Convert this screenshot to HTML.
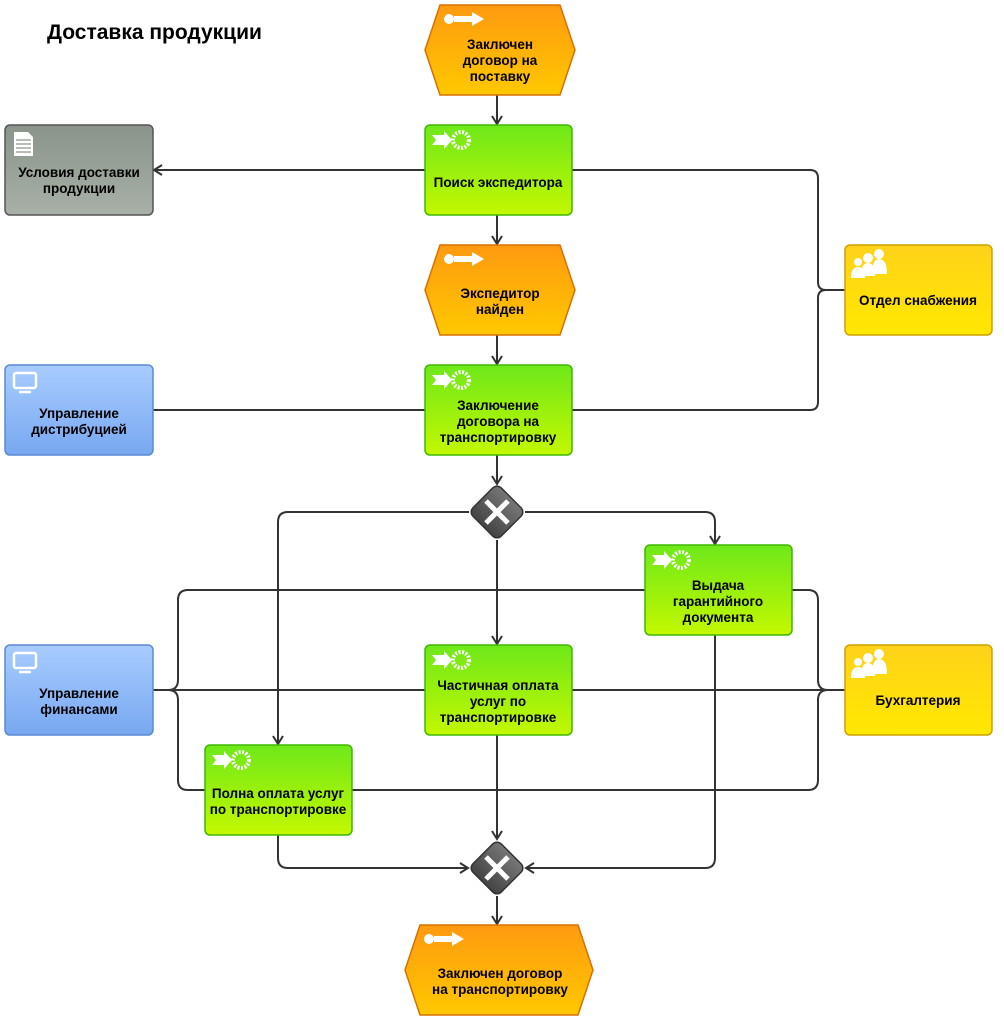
<!DOCTYPE html>
<html><head><meta charset="utf-8"><style>
body{margin:0;background:#fff;}
svg{display:block;font-family:"Liberation Sans","DejaVu Sans",sans-serif;}
.t{font-size:13.5px;font-weight:bold;fill:#000;text-anchor:middle;}
.ln{stroke:#333;stroke-width:2;fill:none;}
</style></head><body>
<svg width="1004" height="1026" viewBox="0 0 1004 1026">
<defs>
<linearGradient id="og" x1="0" y1="0" x2="0" y2="1"><stop offset="0" stop-color="#ff9a10"/><stop offset="1" stop-color="#ffc800"/></linearGradient>
<linearGradient id="gg" x1="0" y1="0" x2="0" y2="1"><stop offset="0" stop-color="#6ee81a"/><stop offset="1" stop-color="#c4f800"/></linearGradient>
<linearGradient id="yg" x1="0" y1="0" x2="0" y2="1"><stop offset="0" stop-color="#ffd21a"/><stop offset="1" stop-color="#ffe800"/></linearGradient>
<linearGradient id="bg" x1="0" y1="0" x2="0" y2="1"><stop offset="0" stop-color="#a8ccff"/><stop offset="1" stop-color="#78a8f0"/></linearGradient>
<linearGradient id="sg" x1="0" y1="0" x2="0" y2="1"><stop offset="0" stop-color="#8a948a"/><stop offset="1" stop-color="#a8b0a8"/></linearGradient>
<linearGradient id="xg" x1="0" y1="0" x2="0" y2="1"><stop offset="0" stop-color="#777"/><stop offset="1" stop-color="#444"/></linearGradient>
<marker id="a" markerWidth="12" markerHeight="12" refX="10" refY="6" orient="auto" markerUnits="userSpaceOnUse"><path d="M2,1 L10,6 L2,11" fill="none" stroke="#333" stroke-width="2"/></marker>
</defs>
<text x="47" y="39" style="font-size:21px;font-weight:bold;fill:#000">Доставка продукции</text>

<g class="ln">
<path d="M497,95 V124" marker-end="url(#a)"/>
<path d="M497,215 V244" marker-end="url(#a)"/>
<path d="M497,335 V364" marker-end="url(#a)"/>
<path d="M497,455 V484" marker-end="url(#a)"/>
<path d="M425,170 H154" marker-end="url(#a)"/>
<path d="M572,170 H810 Q818,170 818,178 V282 Q818,290 826,290 H845"/>
<path d="M572,410 H810 Q818,410 818,402 V298 Q818,290 826,290"/>
<path d="M153,410 H425"/>
<path d="M469,512 H288 Q278,512 278,522 V744" marker-end="url(#a)"/>
<path d="M525,512 H705 Q715,512 715,522 V544" marker-end="url(#a)"/>
<path d="M497,540 V644" marker-end="url(#a)"/>
<path d="M645,590 H188 Q178,590 178,600 V680 Q178,690 168,690"/>
<path d="M792,590 H808 Q818,590 818,600 V680 Q818,690 828,690"/>
<path d="M153,690 H425"/>
<path d="M572,690 H845"/>
<path d="M205,790 H188 Q178,790 178,780 V700 Q178,690 168,690"/>
<path d="M352,790 H808 Q818,790 818,780 V700 Q818,690 828,690"/>
<path d="M278,835 V858 Q278,868 288,868 H468" marker-end="url(#a)"/>
<path d="M497,735 V839" marker-end="url(#a)"/>
<path d="M715,635 V858 Q715,868 705,868 H526" marker-end="url(#a)"/>
<path d="M497,896 V924" marker-end="url(#a)"/>
</g>

<g>
<polygon points="440,5 560,5 575,50 560,95 440,95 425,50" fill="url(#og)" stroke="#d87000" stroke-width="1.5"/>
<polygon points="440,245 560,245 575,290 560,335 440,335 425,290" fill="url(#og)" stroke="#d87000" stroke-width="1.5"/>
<polygon points="420,925 578,925 593,970 578,1015 420,1015 405,970" fill="url(#og)" stroke="#d87000" stroke-width="1.5"/>
<g fill="#fff"><circle cx="449" cy="19" r="5"/><path d="M454,16 H472 V12 L484,19 L472,26 V22 H454Z"/>
<circle cx="449" cy="259" r="5"/><path d="M454,256 H472 V252 L484,259 L472,266 V262 H454Z"/>
<circle cx="429" cy="939" r="5"/><path d="M434,936 H452 V932 L464,939 L452,946 V942 H434Z"/></g>
<text class="t" x="500" y="49">Заключен</text><text class="t" x="500" y="65">договор на</text><text class="t" x="500" y="81">поставку</text>
<text class="t" x="500" y="298">Экспедитор</text><text class="t" x="500" y="314">найден</text>
<text class="t" x="500" y="978">Заключен договор</text><text class="t" x="500" y="994">на транспортировку</text>
</g>

<g stroke="#3fb800" stroke-width="1.5" fill="url(#gg)">
<rect x="425" y="125" width="147" height="90" rx="5"/>
<rect x="425" y="365" width="147" height="90" rx="5"/>
<rect x="645" y="545" width="147" height="90" rx="5"/>
<rect x="425" y="645" width="147" height="90" rx="5"/>
<rect x="205" y="745" width="147" height="90" rx="5"/>
</g>
<g fill="#fff">
<g transform="translate(432,133)"><path d="M0,2 H12 V-2 L20,7 L12,16 V12 H0 L4,7Z"/><circle cx="29" cy="7" r="8" fill="none" stroke="#fff" stroke-width="4" stroke-dasharray="2 1.5"/></g>
<g transform="translate(432,373)"><path d="M0,2 H12 V-2 L20,7 L12,16 V12 H0 L4,7Z"/><circle cx="29" cy="7" r="8" fill="none" stroke="#fff" stroke-width="4" stroke-dasharray="2 1.5"/></g>
<g transform="translate(652,553)"><path d="M0,2 H12 V-2 L20,7 L12,16 V12 H0 L4,7Z"/><circle cx="29" cy="7" r="8" fill="none" stroke="#fff" stroke-width="4" stroke-dasharray="2 1.5"/></g>
<g transform="translate(432,653)"><path d="M0,2 H12 V-2 L20,7 L12,16 V12 H0 L4,7Z"/><circle cx="29" cy="7" r="8" fill="none" stroke="#fff" stroke-width="4" stroke-dasharray="2 1.5"/></g>
<g transform="translate(212,753)"><path d="M0,2 H12 V-2 L20,7 L12,16 V12 H0 L4,7Z"/><circle cx="29" cy="7" r="8" fill="none" stroke="#fff" stroke-width="4" stroke-dasharray="2 1.5"/></g>
</g>
<text class="t" x="498" y="187">Поиск экспедитора</text>
<text class="t" x="498" y="410">Заключение</text><text class="t" x="498" y="426">договора на</text><text class="t" x="498" y="442">транспортировку</text>
<text class="t" x="718" y="590">Выдача</text><text class="t" x="718" y="606">гарантийного</text><text class="t" x="718" y="622">документа</text>
<text class="t" x="498" y="690">Частичная оплата</text><text class="t" x="498" y="706">услуг по</text><text class="t" x="498" y="722">транспортировке</text>
<text class="t" x="278" y="798">Полна оплата услуг</text><text class="t" x="278" y="814">по транспортировке</text>

<rect x="5" y="125" width="148" height="90" rx="5" fill="url(#sg)" stroke="#555" stroke-width="1.5"/>
<path d="M14,132 H28 L33,137 V156 H14Z" fill="#fff"/>
<g stroke="#8a948a" stroke-width="1.2"><path d="M16,140 H31 M16,144 H31 M16,148 H31 M16,152 H31"/></g>
<text class="t" x="79" y="177">Условия доставки</text><text class="t" x="79" y="193">продукции</text>

<rect x="5" y="365" width="148" height="90" rx="5" fill="url(#bg)" stroke="#5a8ad0" stroke-width="1.5"/>
<rect x="5" y="645" width="148" height="90" rx="5" fill="url(#bg)" stroke="#5a8ad0" stroke-width="1.5"/>
<g fill="none" stroke="#fff" stroke-width="2.5"><rect x="14" y="373" width="22" height="15" rx="2"/><path d="M19,392 H31"/><rect x="14" y="653" width="22" height="15" rx="2"/><path d="M19,672 H31"/></g>
<text class="t" x="79" y="418">Управление</text><text class="t" x="79" y="434">дистрибуцией</text>
<text class="t" x="79" y="698">Управление</text><text class="t" x="79" y="714">финансами</text>

<rect x="845" y="245" width="147" height="90" rx="5" fill="url(#yg)" stroke="#d0a000" stroke-width="1.5"/>
<rect x="845" y="645" width="147" height="90" rx="5" fill="url(#yg)" stroke="#d0a000" stroke-width="1.5"/>
<g fill="#fff"><circle cx="858" cy="262" r="4"/><circle cx="868" cy="258" r="5"/><circle cx="879" cy="254" r="5"/><path d="M851,278 Q851,267 858,267 Q865,267 865,278Z M861,276 Q861,263 868,263 Q875,263 875,276Z M872,274 Q872,259 879,259 Q887,259 887,274Z"/>
<circle cx="858" cy="662" r="4"/><circle cx="868" cy="658" r="5"/><circle cx="879" cy="654" r="5"/><path d="M851,678 Q851,667 858,667 Q865,667 865,678Z M861,676 Q861,663 868,663 Q875,663 875,676Z M872,674 Q872,659 879,659 Q887,659 887,674Z"/></g>
<text class="t" x="918" y="305">Отдел снабжения</text>
<text class="t" x="918" y="705">Бухгалтерия</text>

<g>
<rect x="477" y="492" width="40" height="40" rx="6" transform="rotate(45 497 512)" fill="url(#xg)" stroke="#333" stroke-width="1.5"/>
<path d="M486,501 L508,523 M508,501 L486,523" stroke="#fff" stroke-width="5"/>
<rect x="477" y="848" width="40" height="40" rx="6" transform="rotate(45 497 868)" fill="url(#xg)" stroke="#333" stroke-width="1.5"/>
<path d="M486,857 L508,879 M508,857 L486,879" stroke="#fff" stroke-width="5"/>
</g>
</svg>
</body></html>
